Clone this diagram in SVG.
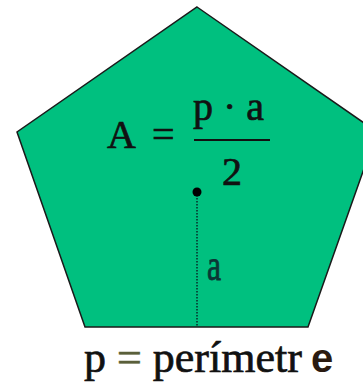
<svg xmlns="http://www.w3.org/2000/svg" width="363" height="382" viewBox="0 0 363 382">
  <style>
    .serif { fill: #111; stroke: #111; stroke-width: 0.7; }
    .shape { fill: #00C07F; stroke: #1a1a1a; stroke-width: 1.5; stroke-linejoin: miter; }
  </style>
  <rect width="363" height="382" fill="#ffffff"/>
  <g id="pentagon">
    <polygon class="shape" points="197,7 377,132 308,327 85,327 17,132"/>
  </g>
  <g id="formula" font-family="Liberation Serif, DejaVu Serif, serif">
    <text class="serif" x="107" y="148" font-size="40">A</text>
    <text class="serif" x="152" y="148" font-size="40">=</text>
    <text class="serif" x="193" y="120" font-size="40">p · a</text>
    <line x1="194" y1="140" x2="270" y2="140" stroke="#111" stroke-width="2"/>
    <text class="serif" x="222" y="185" font-size="40">2</text>
  </g>
  <g id="connectors">
    <line x1="197" y1="192" x2="197" y2="327" stroke="#062a2a" stroke-width="1.5" stroke-dasharray="1.5,1.5"/>
    <circle cx="197" cy="192" r="4.5" fill="#000"/>
  </g>
  <g id="apothem-label">
    <text x="0" y="0" font-family="Liberation Serif, DejaVu Serif, serif" font-size="44" fill="#0b3535" stroke="#0b3535" stroke-width="0.8" transform="translate(207 280) scale(0.72 1)">a</text>
  </g>
  <g id="caption">
    <text class="serif" font-family="Liberation Serif, DejaVu Serif, serif" x="84" y="372" font-size="44">p <tspan fill="#5a5f3a" stroke="#5a5f3a">=</tspan> perímetr</text>
    <text x="311" y="372" font-family="Liberation Sans, Arial, sans-serif" font-weight="bold" font-size="40" fill="#2a1a10">e</text>
  </g>
</svg>
